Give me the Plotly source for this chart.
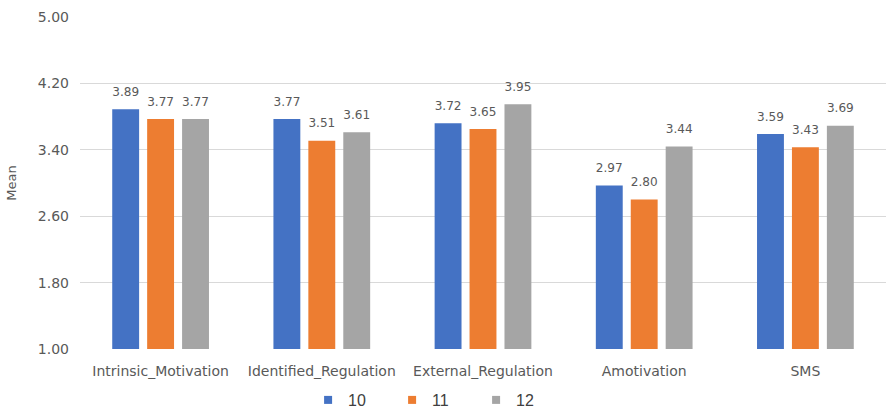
import plotly.graph_objects as go

categories = ["Intrinsic_Motivation", "Identified_Regulation", "External_Regulation",
              "Amotivation", "SMS"]
grade_10 = [3.89, 3.77, 3.72, 2.97, 3.59]
grade_11 = [3.77, 3.51, 3.65, 2.80, 3.43]
grade_12 = [3.77, 3.61, 3.95, 3.44, 3.69]
series_names = ["10", "11", "12"]
colors = ["#4472C4", "#ED7D31", "#A5A5A5"]
y_ticks = [1.00, 1.80, 2.60, 3.40, 4.20, 5.00]

LABEL_FONT = "DejaVu Sans, Open Sans, sans-serif"


def value_label(v):
    # small base font so the blank second line only lifts the number slightly
    return f"<span style='font-size:13px'>{v:.2f}</span><br> "


fig = go.Figure()
for name, vals, col in zip(series_names, [grade_10, grade_11, grade_12], colors):
    fig.add_trace(go.Bar(
        x=categories, y=vals, name=name, showlegend=False,
        marker=dict(color=col, line=dict(width=0)),
        text=[value_label(v) for v in vals],
        textposition="outside", cliponaxis=False,
        textfont=dict(family=LABEL_FONT, size=7, color="#595959"),
    ))
    # square legend key
    fig.add_trace(go.Scatter(
        x=[None], y=[None], mode="markers", name=name,
        marker=dict(symbol="square", size=8, color=col),
    ))

fig.update_layout(
    width=886, height=417,
    margin=dict(l=80, r=0, t=17, b=68),
    paper_bgcolor="white", plot_bgcolor="white",
    barmode="group", bargap=0.35, bargroupgap=0.23,
    font=dict(family=LABEL_FONT, color="#595959", size=13),
    legend=dict(orientation="h", x=0.283, xanchor="left",
                yref="container", y=0.0, yanchor="bottom",
                font=dict(family="Liberation Sans, Arial, sans-serif", size=16, color="#404040"),
                itemwidth=30, entrywidth=39, traceorder="normal"),
    showlegend=True,
)
fig.update_yaxes(
    range=[1, 5], tickvals=y_ticks, ticktext=[f"{t:.2f}" for t in y_ticks],
    showgrid=True, gridcolor="#D9D9D9", gridwidth=1,
    zeroline=False, showline=False, ticks="", ticklabelstandoff=10,
    title=dict(text="Mean", font=dict(family=LABEL_FONT, size=13, color="#595959"), standoff=18),
    tickfont=dict(family=LABEL_FONT, size=14, color="#595959"),
)
fig.update_xaxes(
    showgrid=False, showline=False, ticks="", ticklabelstandoff=12,
    tickfont=dict(family=LABEL_FONT, size=14, color="#595959"),
)

fig.write_html("out.html")
